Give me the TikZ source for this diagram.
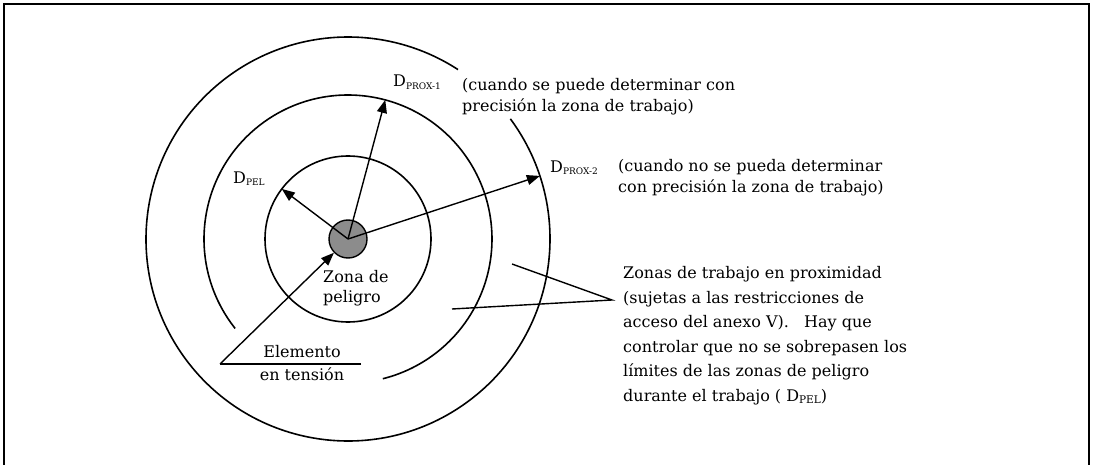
\documentclass[tikz,border=0pt]{standalone}
\usepackage{fontspec}
\setmainfont{DejaVu Serif}
\usetikzlibrary{arrows.meta,calc}
\newcommand{\mysubsc}[2]{\raisebox{-0.35ex}{\fontsize{#1}{#1}\selectfont #2}}
\begin{document}
\begin{tikzpicture}[x=1pt,y=-1pt,
  ring/.style={line width=1.6pt},
  arr/.style={line width=1.4pt,-{Triangle[length=13pt,width=10pt]}},
  plain/.style={line width=1.4pt},
  lbl/.style={font=\fontsize{16}{21}\selectfont, inner sep=0pt, align=left, anchor=base west},
  lblb/.style={font=\fontsize{16}{24.5}\selectfont, inner sep=0pt, align=left, anchor=base west}]
\useasboundingbox (0,0) rectangle (1094,465);
% frame
\draw[line width=1.8pt] (4,466) -- (4,4) -- (1089,4) -- (1089,466);
% centre
\coordinate (c) at (348,239);
% rings
\draw[ring] (c) ++(-36.5:202) arc[start angle=-36.5, end angle=303, radius=202];
\draw[ring] (c) ++(141.6:144) arc[start angle=141.6, end angle=436, radius=144];
\draw[ring] (c) circle[radius=83];
% danger zone
\node[circle, draw, line width=1.4pt, fill=black!45, minimum size=38pt, inner sep=0pt] (zone) at (c) {};
% arrow tips
\path (c) ++(-142.9:83) coordinate (peltip);
\path (c) ++(-75:144) coordinate (p1tip);
\path (c) ++(-18.2:202) coordinate (p2tip);
\draw[arr] (c) -- (peltip);
\draw[arr] (c) -- (p1tip);
\draw[arr] (c) -- (p2tip);
% Elemento en tension
\coordinate (el) at (220,364);
\coordinate (elr) at (361,364);
\draw[plain] (elr) -- (el);
\draw[arr] (el) -- (zone);
\node[font=\fontsize{16}{23}\selectfont, inner sep=0pt, anchor=base] (elem) at (302,357) {Elemento};
\node[font=\fontsize{16}{23}\selectfont, inner sep=0pt, anchor=base] (tens) at (302,380) {en tensión};
% Zona de peligro
\node[lbl, font=\fontsize{16}{20}\selectfont] (zp) at (323,302) {Zona de\\peligro};
% labels
\node[lbl] (dpel) at (233,183) {D\mysubsc{9}{PEL}};
\node[lbl] (dp1) at (393,87) {D\mysubsc{9}{PROX-1}};
\node[lbl] (tp1) at (462,112) {(cuando se puede determinar con\\precisión la zona de trabajo)};
\node[lbl] (dp2) at (550,172) {D\mysubsc{9}{PROX-2}};
\node[lbl] (tp2) at (618,193) {(cuando no se pueda determinar\\con precisión la zona de trabajo)};
% Zonas de trabajo
\coordinate (zt) at (612,300);
\coordinate (za) at (512,264);
\coordinate (zb) at (452,309);
\draw[plain] (za) -- (zt) -- (zb);
\node[lblb] (zonas) at (623,401) {Zonas de trabajo en proximidad\\(sujetas a las restricciones de\\acceso del anexo V).\ \ \ Hay que\\controlar que no se sobrepasen los\\límites de las zonas de peligro\\durante el trabajo ( D\mysubsc{10.5}{PEL})};
\end{tikzpicture}
\end{document}
